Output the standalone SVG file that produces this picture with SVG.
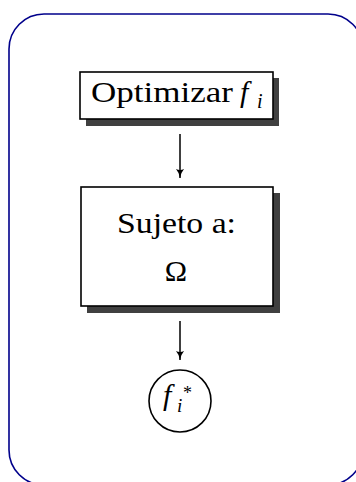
<svg xmlns="http://www.w3.org/2000/svg" width="356" height="482" viewBox="0 0 356 482">
<defs>
<style>
.frame{fill:none;stroke:#00008b;stroke-width:1.6}
.shadow{fill:#404040}
.box{fill:#fff;stroke:#000;stroke-width:1.6}
.t{font-family:'Liberation Serif','Times New Roman',serif;fill:#000}
.it{font-style:italic}
.conn{stroke:#000;stroke-width:1.5;fill:none}
</style>
<marker id="ah" viewBox="0 0 10 10" refX="10" refY="5" markerWidth="9" markerHeight="9" orient="auto" markerUnits="userSpaceOnUse">
<path d="M0,0.5 Q4,4 10,5 Q4,6 0,9.5 Q2,5 0,0.5 Z" fill="#000"/>
</marker>
</defs>
<rect class="frame" x="9" y="14" width="354" height="471" rx="35" ry="35"/>
<g id="connectors">
<line class="conn" x1="180" y1="134" x2="180" y2="178" marker-end="url(#ah)"/>
<line class="conn" x1="180" y1="321" x2="180" y2="360" marker-end="url(#ah)"/>
</g>
<g id="optimizar">
<rect class="shadow" x="86" y="78" width="193" height="48"/>
<rect class="box" x="80" y="72" width="193" height="47"/>
<text class="t" x="91" y="102" font-size="30" textLength="142" lengthAdjust="spacingAndGlyphs">Optimizar</text>
<text class="t it" x="240" y="102" font-size="30">f<tspan x="257" y="108" font-size="20">i</tspan></text>
</g>
<g id="sujeto">
<rect class="shadow" x="87" y="193" width="193" height="120"/>
<rect class="box" x="81" y="187" width="192" height="119"/>
<text class="t" x="117" y="233" font-size="30" textLength="119" lengthAdjust="spacingAndGlyphs">Sujeto a:</text>
<text class="t" x="176" y="281" font-size="30" text-anchor="middle">Ω</text>
</g>
<g id="fstar">
<circle class="box" cx="180" cy="401" r="31"/>
<text class="t it" x="163" y="405" font-size="30">f<tspan x="183" y="399" font-size="18" font-style="normal">*</tspan><tspan x="177" y="412" font-size="19">i</tspan></text>
</g>
</svg>
